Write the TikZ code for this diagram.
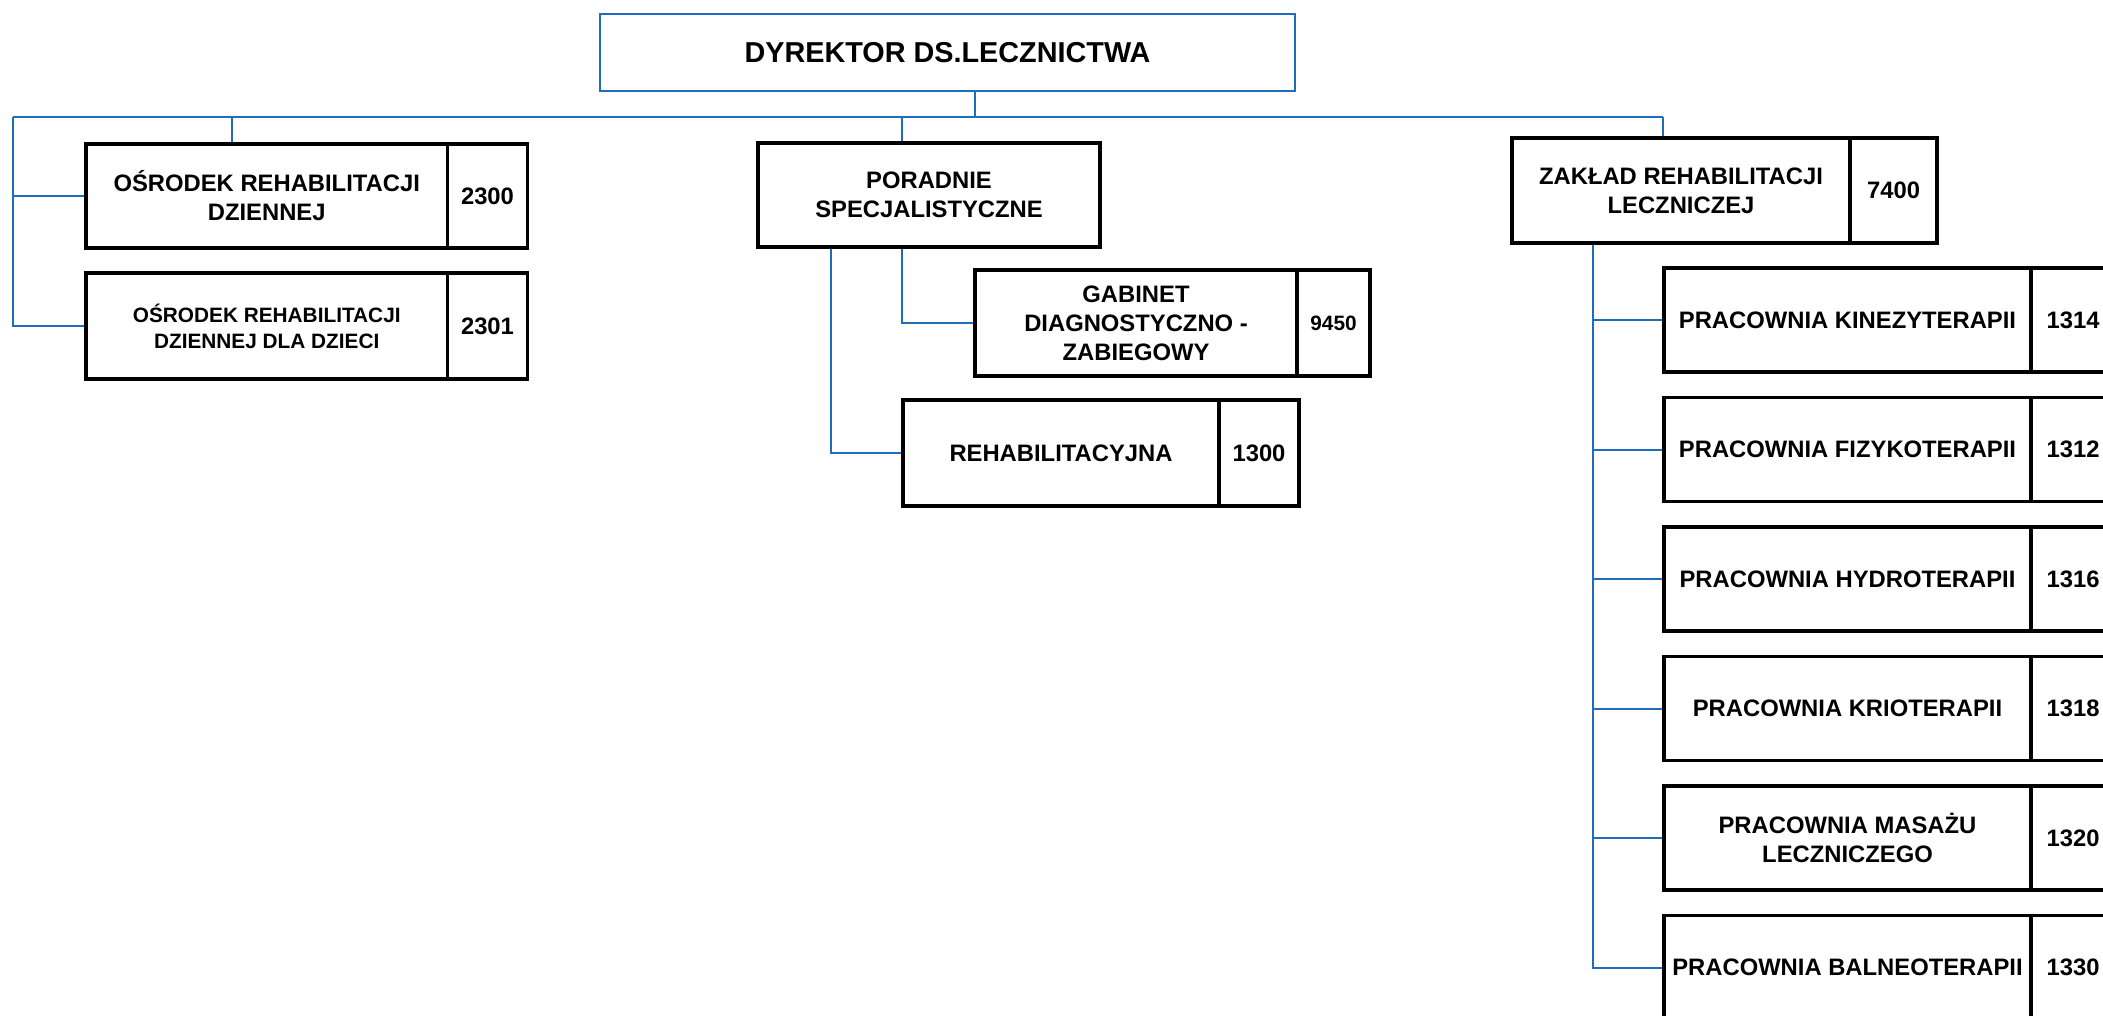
\documentclass[tikz,border=0pt]{standalone}
\usepackage{fontspec}
\setmainfont{Liberation Sans}
\definecolor{linkblue}{RGB}{30,110,185}
\tikzset{
  cell/.style={draw=black, line width=1.7pt, inner sep=0pt, align=center,
    font=\bfseries\fontsize{11.9}{14.5}\selectfont},
  smallcell/.style={font=\bfseries\fontsize{10.4}{13}\selectfont},
  dircell/.style={draw=linkblue, line width=1.3pt, font=\bfseries\fontsize{14.4}{17}\selectfont},
  link/.style={draw=linkblue, line width=1pt}
}
% [style]{x1}{y1}{x2}{y2}{name}{text}
\newcommand\cellat[7][]{%
  \node[cell,#1,minimum width={(#4-#2)*0.5pt},minimum height={(#5-#3)*0.5pt}]
    (#6) at ({(#2+#4)/2},{(#3+#5)/2}) {#7};}
\begin{document}
\begin{tikzpicture}[x=0.5pt,y=-0.5pt]
\path[use as bounding box, clip] (0,0) rectangle (2103,1016);
\fill[white] (0,0) rectangle (2103,1016);

% director
\cellat[dircell]{600}{14}{1295}{91}{dir}{DYREKTOR DS.LECZNICTWA}

% left group
\cellat{86}{144}{447.5}{248}{o1}{OŚRODEK REHABILITACJI\\DZIENNEJ}
\cellat{447.5}{144}{527.5}{248}{o1n}{2300}
\cellat[smallcell]{86}{273}{447.5}{379}{o2}{OŚRODEK REHABILITACJI\\DZIENNEJ DLA DZIECI}
\cellat{447.5}{273}{527.5}{379}{o2n}{2301}

% middle group
\cellat{758}{143}{1100}{247}{por}{PORADNIE\\SPECJALISTYCZNE}
\cellat{975}{270}{1297}{376}{gab}{GABINET\\DIAGNOSTYCZNO -\\ZABIEGOWY}
\cellat[smallcell]{1297}{270}{1370}{376}{gabn}{9450}
\cellat{903}{400}{1219}{506}{reh}{REHABILITACYJNA}
\cellat{1219}{400}{1299}{506}{rehn}{1300}

% right group
\cellat{1512}{138}{1850}{243}{zak}{ZAKŁAD REHABILITACJI\\LECZNICZEJ}
\cellat{1850}{138}{1937}{243}{zakn}{7400}
\cellat{1664}{268}{2031}{372}{r1}{PRACOWNIA KINEZYTERAPII}
\cellat{2031}{268}{2115}{372}{r1n}{1314}
\cellat{1664}{397.5}{2031}{501.5}{r2}{PRACOWNIA FIZYKOTERAPII}
\cellat{2031}{397.5}{2115}{501.5}{r2n}{1312}
\cellat{1664}{527}{2031}{631}{r3}{PRACOWNIA HYDROTERAPII}
\cellat{2031}{527}{2115}{631}{r3n}{1316}
\cellat{1664}{656.5}{2031}{760.5}{r4}{PRACOWNIA KRIOTERAPII}
\cellat{2031}{656.5}{2115}{760.5}{r4n}{1318}
\cellat{1664}{786}{2031}{890}{r5}{PRACOWNIA MASAŻU\\LECZNICZEGO}
\cellat{2031}{786}{2115}{890}{r5n}{1320}
\cellat{1664}{915.5}{2031}{1019.5}{r6}{PRACOWNIA BALNEOTERAPII}
\cellat{2031}{915.5}{2115}{1019.5}{r6n}{1330}

% connector coordinates
\coordinate (bL) at (13,117);
\coordinate (bR) at (1663,117);
\coordinate (bs) at (975,117);
\coordinate (t1) at (231.5,117);
\coordinate (t2) at (902,117);
\coordinate (p2) at (831,0);
\coordinate (zs) at (1593,0);

% connectors
\draw[link] (dir.south -| bs) -- (bs);
\draw[link] (bL) -- (bR);
\draw[link] (bL) |- (o1.west);
\draw[link] (bL) |- (o2.west);
\draw[link] (t1) -- (t1 |- o1.north);
\draw[link] (t2) -- (t2 |- por.north);
\draw[link] (por.south -| t2) |- (gab.west);
\draw[link] (por.south -| p2) |- (reh.west);
\draw[link] (bR) -- (bR |- zak.north);
\draw[link] (zak.south -| zs) |- (r6.west);
\foreach \r in {r1,r2,r3,r4,r5}{\draw[link] (zs |- \r.west) -- (\r.west);}
\end{tikzpicture}
\end{document}
